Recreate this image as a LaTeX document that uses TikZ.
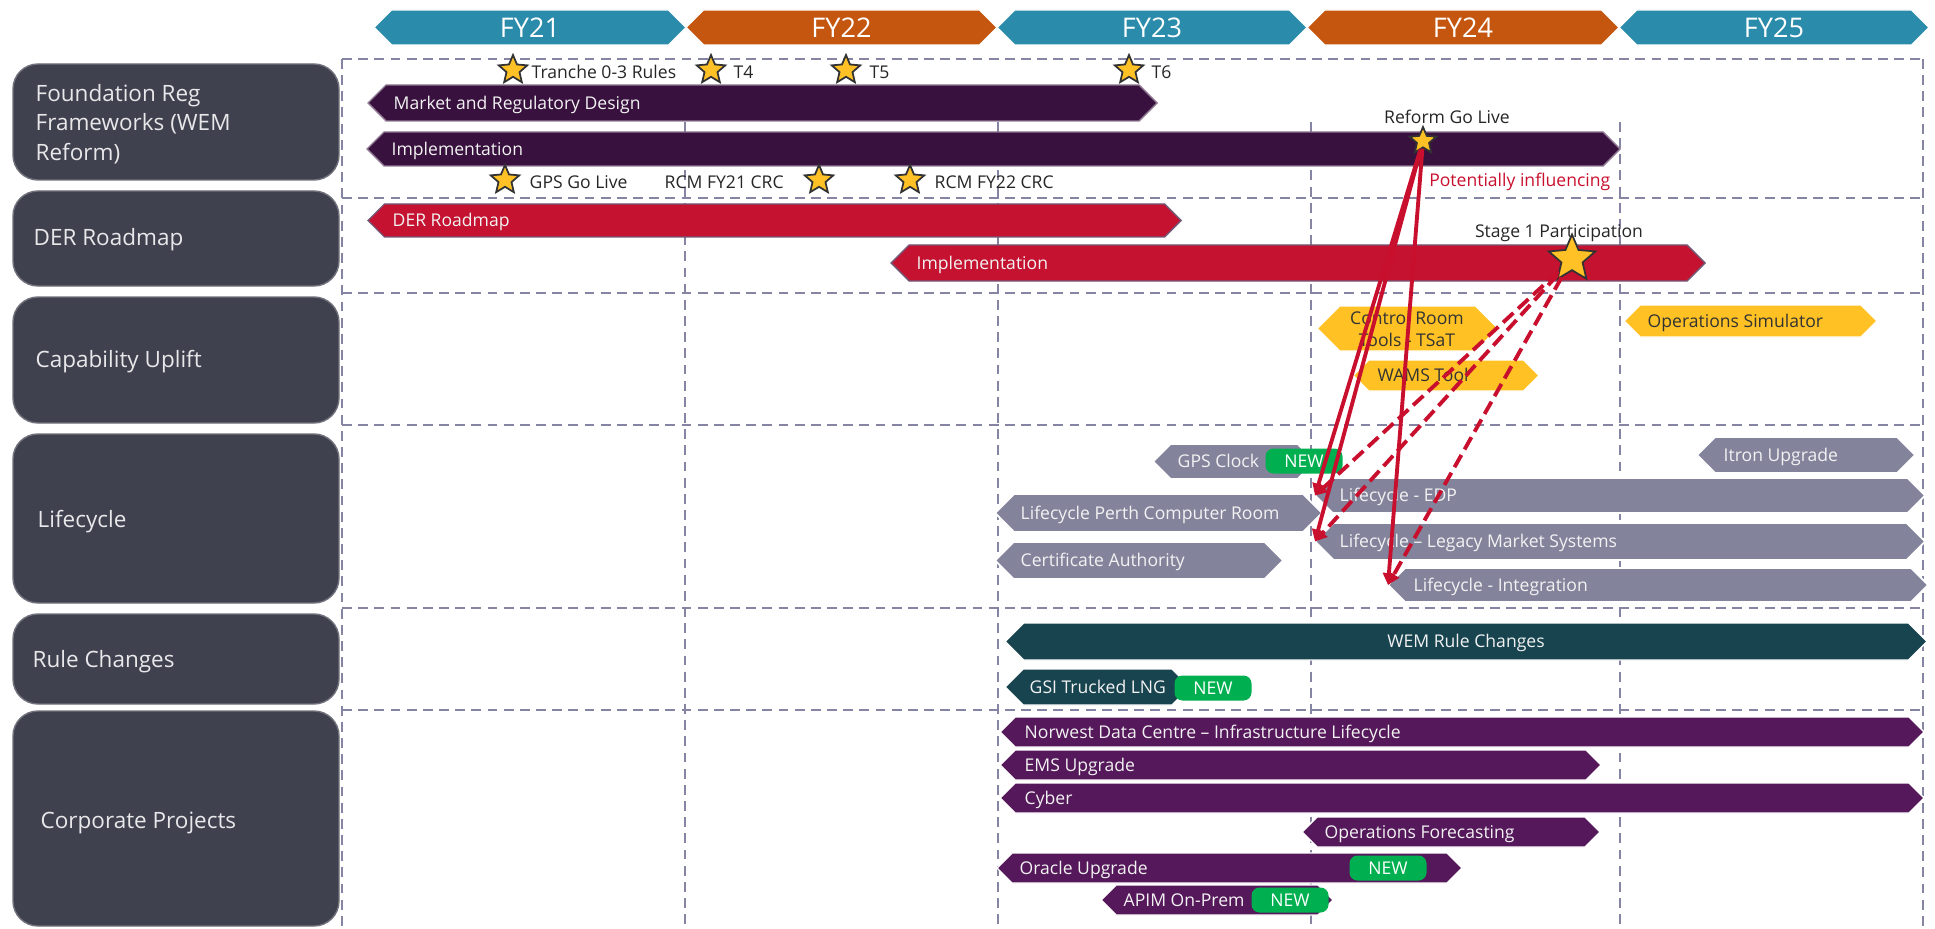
\documentclass[tikz,border=0pt]{standalone}
\usepackage{fontspec}
\setmainfont{Open Sans}
\usetikzlibrary{shapes.geometric,arrows.meta}

\definecolor{hdrblue}{HTML}{2A8BAB}
\definecolor{hdrorange}{HTML}{C5560F}
\definecolor{slate}{HTML}{40414F}
\definecolor{regpurple}{HTML}{38113E}
\definecolor{dercrimson}{HTML}{C41230}
\definecolor{capamber}{HTML}{FFC124}
\definecolor{lifegray}{HTML}{83849C}
\definecolor{ruleteal}{HTML}{17444F}
\definecolor{corppurple}{HTML}{55185B}
\definecolor{newgreen}{HTML}{00B050}
\definecolor{gridgray}{HTML}{8585A3}
\definecolor{stargold}{HTML}{FFC125}
\definecolor{linkred}{HTML}{C8102E}

% double pointed bar: left tip x, right tip x, top y, bottom y, style
\newcommand{\tlbar}[5]{%
  \filldraw[#5] (#1,{(#3+#4)/2}) -- ({#1+(#4-#3)/2},#3) -- ({#2-(#4-#3)/2},#3)
    -- (#2,{(#3+#4)/2}) -- ({#2-(#4-#3)/2},#4) -- ({#1+(#4-#3)/2},#4) -- cycle;}

\tikzset{
  gridline/.style={gridgray, line width=0.45pt, dash pattern=on 2.8pt off 1.8pt},
  rowbox/.style={fill=slate, draw=slate!75!white, line width=0.4pt, rounded corners=2.5mm},
  rowlabel/.style={anchor=west, inner sep=0, text=white!88!slate, align=left,
    font=\fontsize{6.4}{8.4}\selectfont},
  rowlabelone/.style={rowlabel, text height=1.6mm, text depth=0pt},
  bartext/.style={anchor=west, inner sep=0, text=white!95!black,
    text height=1.26mm, text depth=0pt, font=\fontsize{5}{6.2}\selectfont},
  darktext/.style={bartext, text=black!80},
  note/.style={bartext, text=black!85},
  hdrtext/.style={inner sep=0, text=white, text height=1.93mm, text depth=0pt,
    font=\fontsize{7.7}{8}\selectfont},
  regbar/.style={fill=regpurple, draw=regpurple!55!white, line width=0.4pt},
  derbar/.style={fill=dercrimson, draw=regpurple!70!white, line width=0.4pt},
  capbar/.style={fill=capamber, draw=white, line width=0.4pt},
  lifebar/.style={fill=lifegray, draw=white, line width=0.5pt},
  rulebar/.style={fill=ruleteal, draw=white, line width=0.4pt},
  corpbar/.style={fill=corppurple, draw=white, line width=0.4pt},
  milestone/.style={star, star points=5, star point ratio=2.2, fill=stargold,
    draw=black!80, line width=0.5pt, inner sep=0, minimum size=3mm},
  newtag/.style={fill=newgreen, rounded corners=0.8mm, minimum width=7.7mm,
    minimum height=2.5mm, inner sep=0, text=white, font=\fontsize{5}{6}\selectfont},
  link/.style={linkred, line width=1.1pt, -{Triangle[length=3.4pt,width=3.4pt]}},
  maybe/.style={link, dash pattern=on 4pt off 1.8pt},
}

\begin{document}
\begin{tikzpicture}[x=0.1mm, y=-0.1mm]
  \useasboundingbox (0,0) rectangle (1935,929);

  % financial years
  \foreach \yr/\xa/\xb/\col in {21/374/686/hdrblue, 22/686/997/hdrorange,
      23/997/1307/hdrblue, 24/1307/1619/hdrorange, 25/1619/1929/hdrblue}{
    \tlbar{\xa}{\xb}{10}{45}{fill=\col, draw=white, line width=0.4pt}
    \node[hdrtext] (fy\yr) at ({(\xa+\xb)/2},27.5) {FY\yr};
  }

  % grid
  \foreach \y in {59,198,293,425,608,710}
    \draw[gridline] (342,\y) -- (1923,\y);
  \draw[gridline] (342,59) -- (342,929);
  \draw[gridline] (1923,59) -- (1923,929);
  \foreach \x in {685,998,1311,1620}
    \draw[gridline] (\x,122) -- (\x,929);

  % row headings
  \filldraw[rowbox] (13,64) rectangle (339,180);
  \filldraw[rowbox] (13,191) rectangle (339,286);
  \filldraw[rowbox] (13,297) rectangle (339,423);
  \filldraw[rowbox] (13,434) rectangle (339,603);
  \filldraw[rowbox] (13,614) rectangle (339,704);
  \filldraw[rowbox] (13,711) rectangle (339,926);
  \node[rowlabel] (rowreg) at (35,124) {Foundation Reg\\Frameworks (WEM\\Reform)};
  \node[rowlabelone] (rowder) at (33,238) {DER Roadmap};
  \node[rowlabelone] (rowcap) at (35,360) {Capability Uplift};
  \node[rowlabelone] (rowlife) at (37,519) {Lifecycle};
  \node[rowlabelone] (rowrule) at (32,659) {Rule Changes};
  \node[rowlabelone] (rowcorp) at (40,820) {Corporate Projects};

  % foundation reg frameworks
  \tlbar{368}{1157}{85}{121}{regbar}
  \tlbar{367}{1620}{132}{166}{regbar}
  \node[bartext] (mrd) at (393,103) {Market and Regulatory Design};
  \node[bartext] (regimpl) at (391,149) {Implementation};

  \node[milestone] (tranche) at (513,70) {};
  \node[milestone] (t4) at (711,70) {};
  \node[milestone] (t5) at (846,70) {};
  \node[milestone] (t6) at (1129,70) {};
  \node[note] (tranchetxt) at (531,72) {Tranche 0-3 Rules};
  \node[note] (t4txt) at (733,72) {T4};
  \node[note] (t5txt) at (869,72) {T5};
  \node[note] (t6txt) at (1151,72) {T6};

  \node[milestone] (gpslive) at (505,180) {};
  \node[milestone] (rcm21) at (819,180) {};
  \node[milestone] (rcm22) at (910,180) {};
  \node[note] (gpslivetxt) at (529,182) {GPS Go Live};
  \node[note] (rcm21txt) at (664,182) {RCM FY21 CRC};
  \node[note] (rcm22txt) at (934,182) {RCM FY22 CRC};

  \node[milestone, minimum size=2.8mm] (reform) at (1423,141) {};
  \node[note, anchor=center] (reformtxt) at (1447,117) {Reform Go Live};
  \node[note, anchor=east, text=linkred] (influence) at (1611,180) {Potentially influencing};

  % DER roadmap
  \tlbar{368}{1181}{204}{237}{derbar}
  \tlbar{891}{1705}{245}{281}{derbar}
  \node[bartext] (derrm) at (392,220.5) {DER Roadmap};
  \node[bartext] (derimpl) at (916,263) {Implementation};
  \node[note, anchor=center] (stagetxt) at (1559,231) {Stage 1 Participation};
  \node[milestone, minimum size=4.9mm] (stage) at (1572,259) {};

  % capability uplift
  \tlbar{1317}{1498}{306}{351}{capbar}
  \tlbar{1353}{1539}{360}{391}{capbar}
  \tlbar{1624}{1877}{305}{337}{capbar}
  \node[anchor=center, align=center, inner sep=0, text=black!80,
    font=\fontsize{5}{6.3}\selectfont] (crt) at (1407,329) {Control Room\\Tools - TSaT};
  \node[darktext] (wams) at (1377,375.5) {WAMS Tool};
  \node[darktext] (opsim) at (1647,321) {Operations Simulator};

  % lifecycle
  \tlbar{1153}{1315}{444}{479}{lifebar}
  \tlbar{995}{1322}{494}{532}{lifebar}
  \tlbar{995}{1283}{542}{579}{lifebar}
  \tlbar{1697}{1915}{437}{473}{lifebar}
  \tlbar{1315}{1925}{478}{513}{lifebar}
  \tlbar{1315}{1925}{523}{560}{lifebar}
  \tlbar{1388}{1928}{568}{602}{lifebar}
  \node[bartext] (gpsclk) at (1177,461.5) {GPS Clock};
  \node[newtag] (gpsnew) at (1304,461) {NEW};
  \node[bartext] (perth) at (1020,513) {Lifecycle Perth Computer Room};
  \node[bartext] (cert) at (1020,560.5) {Certificate Authority};
  \node[bartext] (itron) at (1723,455) {Itron Upgrade};
  \node[bartext] (edp) at (1339,495.5) {Lifecycle - EDP};
  \node[bartext] (legacy) at (1339,541.5) {Lifecycle -- Legacy Market Systems};
  \node[bartext] (integ) at (1413,585) {Lifecycle - Integration};
  \coordinate (edptip) at (1315,495.5);
  \coordinate (legtip) at (1315,541.5);
  \coordinate (inttip) at (1388,585);

  % rule changes
  \tlbar{1005}{1927}{623}{660}{rulebar}
  \tlbar{1005}{1190}{669}{705}{rulebar}
  \node[bartext, anchor=center] (wem) at (1466,641.5) {WEM Rule Changes};
  \node[bartext] (gsi) at (1029,687) {GSI Trucked LNG};
  \node[newtag] (gsinew) at (1213,688) {NEW};

  % corporate projects
  \tlbar{1000}{1924}{717}{747}{corpbar}
  \tlbar{1000}{1601}{750}{780}{corpbar}
  \tlbar{1000}{1924}{783}{813}{corpbar}
  \tlbar{1302}{1600}{817}{847}{corpbar}
  \tlbar{997}{1462}{853}{883}{corpbar}
  \tlbar{1101}{1333}{885}{915}{corpbar}
  \node[bartext] (norwest) at (1024,732) {Norwest Data Centre -- Infrastructure Lifecycle};
  \node[bartext] (ems) at (1024,765) {EMS Upgrade};
  \node[bartext] (cyber) at (1024,798) {Cyber};
  \node[bartext] (opsfc) at (1324,832) {Operations Forecasting};
  \node[bartext] (oracle) at (1019,868) {Oracle Upgrade};
  \node[newtag] (oraclenew) at (1388,868) {NEW};
  \node[bartext] (apim) at (1123,900) {APIM On-Prem};
  \node[newtag] (apimnew) at (1290,900) {NEW};

  % influence links
  \foreach \t in {edptip,legtip,inttip}{
    \draw[link] (reform) -- (\t);
    \draw[maybe] (stage) -- (\t);
  }
\end{tikzpicture}
\end{document}
